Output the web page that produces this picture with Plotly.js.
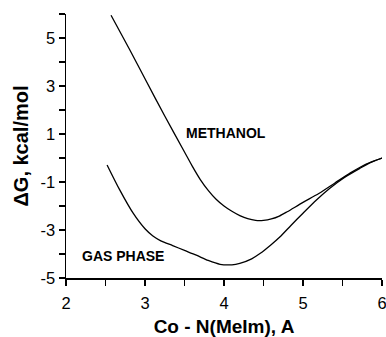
<!DOCTYPE html>
<html>
<head>
<meta charset="utf-8">
<script src="https://cdn.plot.ly/plotly-3.0.1.min.js"></script>
<style>html,body{margin:0;padding:0;background:#fff;}#chart{width:386px;height:337px;}</style>
</head>
<body>
<div id="chart"></div>
<script>
// Methanol curve
const methanolX = [2.57, 2.8, 3.0, 3.25, 3.5, 3.6, 3.7, 3.8, 3.9, 4.0, 4.1, 4.2, 4.3, 4.4, 4.5, 4.6, 4.7, 4.8, 5.0, 5.2, 5.4, 5.6, 5.8, 6.0];
const methanolY = [5.95, 4.55, 3.3, 1.75, 0.25, -0.35, -0.9, -1.35, -1.72, -2.0, -2.22, -2.4, -2.53, -2.6, -2.6, -2.54, -2.42, -2.24, -1.85, -1.48, -1.05, -0.62, -0.25, 0.0];
// Gas phase curve
const gasX = [2.52, 2.68, 2.85, 3.0, 3.1, 3.2, 3.35, 3.5, 3.65, 3.8, 3.95, 4.1, 4.2, 4.35, 4.46, 4.6, 4.71, 4.85, 5.0, 5.17, 5.34, 5.53, 5.72, 5.86, 6.0];
const gasY = [-0.29, -1.33, -2.3, -2.95, -3.25, -3.45, -3.65, -3.85, -4.05, -4.27, -4.43, -4.45, -4.39, -4.2, -3.97, -3.6, -3.28, -2.8, -2.3, -1.75, -1.26, -0.8, -0.43, -0.18, 0.0];
// Ticks
const xTickVals = [2, 2.5, 3, 3.5, 4, 4.5, 5, 5.5, 6];
const xTickText = ['2', '', '3', '', '4', '', '5', '', '6'];
const yTickVals = [-5, -4, -3, -2, -1, 0, 1, 2, 3, 4, 5, 6];
const yTickText = ['-5', '', '-3', '', '-1', '', '1', '', '3', '', '5', ''];
// Labels
const labelMethanol = 'METHANOL';
const labelGas = 'GAS PHASE';

const font = '"Liberation Sans", Arial, sans-serif';
const traces = [
  {x: methanolX, y: methanolY, mode: 'lines', line: {color: '#000', width: 1.3, shape: 'spline', smoothing: 0.8}, hoverinfo: 'none'},
  {x: gasX, y: gasY, mode: 'lines', line: {color: '#000', width: 1.3, shape: 'spline', smoothing: 0.8}, hoverinfo: 'none'}
];
const layout = {
  width: 386, height: 337,
  margin: {l: 66, r: 4, t: 14, b: 59},
  paper_bgcolor: '#fff', plot_bgcolor: '#fff',
  showlegend: false,
  font: {family: font, color: '#000', size: 16},
  xaxis: {
    range: [2, 6], tickmode: 'array', tickvals: xTickVals, ticktext: xTickText,
    ticks: 'outside', ticklen: 6, tickwidth: 1.3, tickcolor: '#000',
    showline: true, linecolor: '#000', linewidth: 1.5, showgrid: false, zeroline: false,
    tickfont: {family: font, size: 16.5, color: '#000'},
    ticklabelstandoff: 4, ticklabeloverflow: 'allow',
    title: {text: '<b>Co - N(MeIm), A</b>', font: {family: font, size: 19, color: '#000'}, standoff: 8},
    automargin: false
  },
  yaxis: {
    range: [-5, 6], tickmode: 'array', tickvals: yTickVals, ticktext: yTickText,
    ticks: 'outside', ticklen: 6, tickwidth: 1.3, tickcolor: '#000',
    showline: true, linecolor: '#000', linewidth: 1.5, showgrid: false, zeroline: false,
    tickfont: {family: font, size: 16.5, color: '#000'},
    ticklabeloverflow: 'allow',
    title: {text: '<b>ΔG, kcal/mol</b>', font: {family: font, size: 20, color: '#000'}, standoff: 6},
    automargin: false
  },
  annotations: [
    {x: 3.49, y: 1.04, xref: 'x', yref: 'y', text: '<b>' + labelMethanol + '</b>', showarrow: false, xanchor: 'left', yanchor: 'middle', font: {family: font, size: 14, color: '#000'}},
    {x: 2.18, y: -4.08, xref: 'x', yref: 'y', text: '<b>' + labelGas + '</b>', showarrow: false, xanchor: 'left', yanchor: 'middle', font: {family: font, size: 14, color: '#000'}}
  ]
};
Plotly.newPlot('chart', traces, layout, {displayModeBar: false, staticPlot: true});
</script>
</body>
</html>
